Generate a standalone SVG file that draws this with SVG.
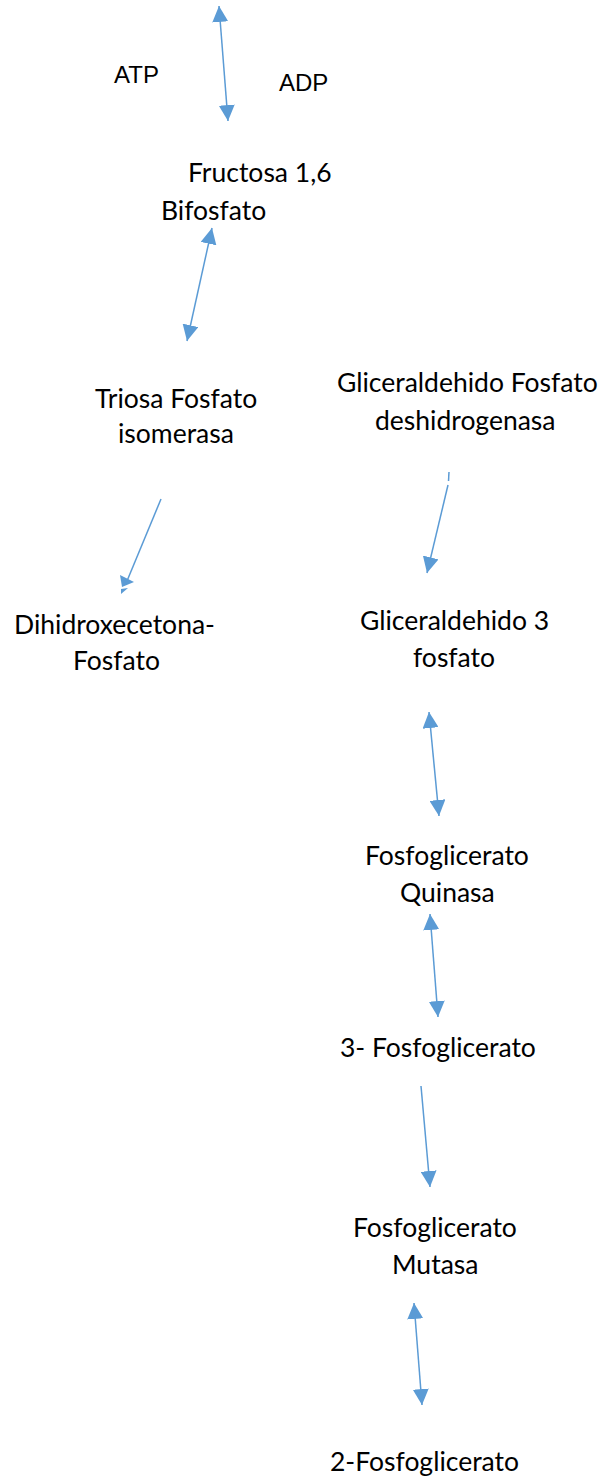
<svg xmlns="http://www.w3.org/2000/svg" width="609" height="1481" viewBox="0 0 609 1481">
<style>
text{font-family:"Lato","Liberation Sans",sans-serif;font-size:26.5px;fill:#000}
text.a{font-family:"Liberation Sans",Arial,sans-serif;font-size:24px}
.c{stroke:#5B9BD5;stroke-width:1.5;fill:none}
.h{fill:#5B9BD5}
</style>
<defs>
<marker id="ah" viewBox="0 0 10 10" refX="10" refY="5" markerWidth="16" markerHeight="16" markerUnits="userSpaceOnUse" orient="auto-start-reverse">
<path d="M0,0 L10,5 L0,10 z" fill="#5B9BD5"/>
</marker>
</defs>
<rect width="609" height="1481" fill="#fff"/>
<g id="connectors">
<line class="c" x1="219" y1="6" x2="228" y2="121" marker-start="url(#ah)" marker-end="url(#ah)"/>
<line class="c" x1="212" y1="228" x2="187" y2="341" marker-start="url(#ah)" marker-end="url(#ah)"/>
<line class="c" x1="161" y1="499" x2="127" y2="581"/>
<polygon class="h" points="120,575 134,582 122,587"/>
<polygon class="h" points="121,589 128,588 121,594"/>
<line class="c" x1="449" y1="472" x2="448.5" y2="481"/>
<line class="c" x1="448" y1="485" x2="427" y2="573" marker-end="url(#ah)"/>
<line class="c" x1="429" y1="712" x2="439" y2="816" marker-start="url(#ah)" marker-end="url(#ah)"/>
<line class="c" x1="430" y1="914" x2="438" y2="1017" marker-start="url(#ah)" marker-end="url(#ah)"/>
<line class="c" x1="421" y1="1086" x2="430" y2="1187" marker-end="url(#ah)"/>
<line class="c" x1="414" y1="1303" x2="422" y2="1405" marker-start="url(#ah)" marker-end="url(#ah)"/>
</g>
<g id="atp"><text class="a" x="114" y="83">ATP</text></g>
<g id="adp"><text class="a" x="279" y="91">ADP</text></g>
<g id="fructosa"><text x="188" y="182">Fructosa 1,6</text><text x="161" y="220">Bifosfato</text></g>
<g id="triosa"><text x="95" y="408">Triosa Fosfato</text><text x="118" y="443">isomerasa</text></g>
<g id="dihidrox"><text x="14" y="634">Dihidroxecetona-</text><text x="73" y="670">Fosfato</text></g>
<g id="gapdh"><text x="337" y="392">Gliceraldehido Fosfato</text><text x="375" y="430">deshidrogenasa</text></g>
<g id="g3p"><text x="360" y="630">Gliceraldehido 3</text><text x="413" y="667">fosfato</text></g>
<g id="pgk"><text x="365" y="865">Fosfoglicerato</text><text x="400" y="902">Quinasa</text></g>
<g id="pg3"><text x="340" y="1057">3- Fosfoglicerato</text></g>
<g id="pgm"><text x="353" y="1237">Fosfoglicerato</text><text x="392" y="1274">Mutasa</text></g>
<g id="pg2"><text x="330" y="1471">2-Fosfoglicerato</text></g>
</svg>
